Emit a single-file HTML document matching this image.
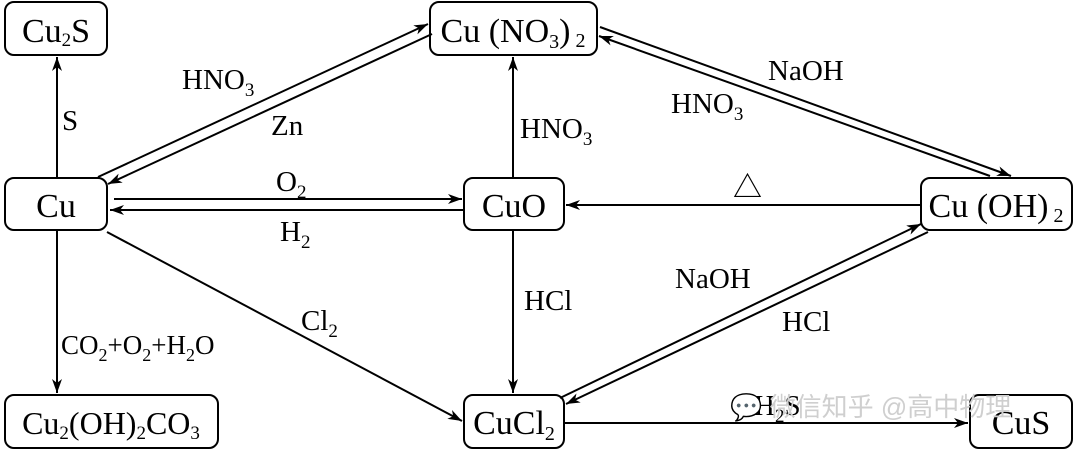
<!DOCTYPE html>
<html><head><meta charset="utf-8"><style>
html,body{margin:0;padding:0;background:#fff;}
svg{display:block;}
text{font-family:"Liberation Serif","Noto Serif CJK SC",serif;fill:#000;}
</style></head><body>
<svg width="1080" height="454" viewBox="0 0 1080 454" xmlns="http://www.w3.org/2000/svg">
<defs>
<marker id="a" viewBox="0 0 14 10" refX="14" refY="5" markerWidth="14" markerHeight="10" markerUnits="userSpaceOnUse" orient="auto">
<path d="M0,0 L14,5 L0,10 L4,5 Z" fill="#000"/></marker>
</defs>
<g fill="#fff" stroke="#000" stroke-width="2">
<rect x="5" y="2" width="102" height="53" rx="9"/>
<rect x="430" y="2" width="167" height="53" rx="9"/>
<rect x="5" y="178" width="102" height="52" rx="9"/>
<rect x="464" y="178" width="100" height="52" rx="9"/>
<rect x="921" y="178" width="151" height="52" rx="9"/>
<rect x="5" y="395" width="213" height="53" rx="9"/>
<rect x="464" y="395" width="100" height="53" rx="9"/>
<rect x="970" y="395" width="102" height="53" rx="9"/>
</g>
<g stroke="#000" stroke-width="2" fill="none" marker-end="url(#a)">
<line x1="57" y1="178" x2="57" y2="57"/>
<line x1="98" y1="177" x2="428" y2="24"/>
<line x1="432" y1="34" x2="108" y2="184"/>
<line x1="114" y1="199" x2="462" y2="199"/>
<line x1="464" y1="210" x2="110" y2="210"/>
<line x1="513" y1="178" x2="513" y2="57"/>
<line x1="920" y1="205" x2="566" y2="205"/>
<line x1="600" y1="27" x2="1011" y2="176"/>
<line x1="990" y1="176" x2="599" y2="36"/>
<line x1="107" y1="232" x2="462" y2="421"/>
<line x1="513" y1="230" x2="513" y2="393"/>
<line x1="560" y1="398" x2="921" y2="224"/>
<line x1="928" y1="232" x2="566" y2="404"/>
<line x1="57" y1="230" x2="57" y2="393"/>
<line x1="564" y1="423" x2="968" y2="423"/>
</g>
<g font-size="34">
<text x="56" y="42" text-anchor="middle">Cu<tspan font-size="19" dy="4">2</tspan><tspan dy="-4">S</tspan></text>
<text x="513" y="42" text-anchor="middle">Cu (NO<tspan font-size="20" dy="6">3</tspan><tspan dy="-6">)</tspan><tspan font-size="20" dy="5"> 2</tspan></text>
<text x="56" y="217" text-anchor="middle">Cu</text>
<text x="514" y="217" text-anchor="middle">CuO</text>
<text x="996" y="217" text-anchor="middle">Cu (OH)<tspan font-size="20" dy="5"> 2</tspan></text>
<text x="111" y="434" text-anchor="middle" font-size="32">Cu<tspan font-size="19" dy="5">2</tspan><tspan dy="-5">(OH)</tspan><tspan font-size="19" dy="5">2</tspan><tspan dy="-5">CO</tspan><tspan font-size="19" dy="5">3</tspan></text>
<text x="514" y="434" text-anchor="middle">CuCl<tspan font-size="20" dy="6">2</tspan></text>
<text x="1021" y="434" text-anchor="middle">CuS</text>
</g>
<g font-size="29">
<text x="62" y="130">S</text>
<text x="182" y="89">HNO<tspan font-size="19" dy="7">3</tspan></text>
<text x="271" y="135">Zn</text>
<text x="276" y="191">O<tspan font-size="19" dy="7">2</tspan></text>
<text x="280" y="241">H<tspan font-size="19" dy="7">2</tspan></text>
<text x="520" y="138">HNO<tspan font-size="19" dy="7">3</tspan></text>
<text x="768" y="80">NaOH</text>
<text x="671" y="113">HNO<tspan font-size="19" dy="7">3</tspan></text>
<text x="733" y="197">△</text>
<text x="524" y="310">HCl</text>
<text x="301" y="330">Cl<tspan font-size="19" dy="7">2</tspan></text>
<text x="675" y="288">NaOH</text>
<text x="782" y="331">HCl</text>
<text x="61" y="354" font-size="27">CO<tspan font-size="18" dy="7">2</tspan><tspan dy="-7">+O</tspan><tspan font-size="18" dy="7">2</tspan><tspan dy="-7">+H</tspan><tspan font-size="18" dy="7">2</tspan><tspan dy="-7">O</tspan></text>
<text x="754" y="415">H<tspan font-size="19" dy="7">2</tspan><tspan dy="-7">S</tspan></text>
</g>
<text x="730" y="416" font-size="26" style="fill:#cfcfcf;font-family:'Liberation Sans','Noto Sans CJK SC',sans-serif">💬 微信知乎 @高中物理</text>
</svg>
</body></html>
